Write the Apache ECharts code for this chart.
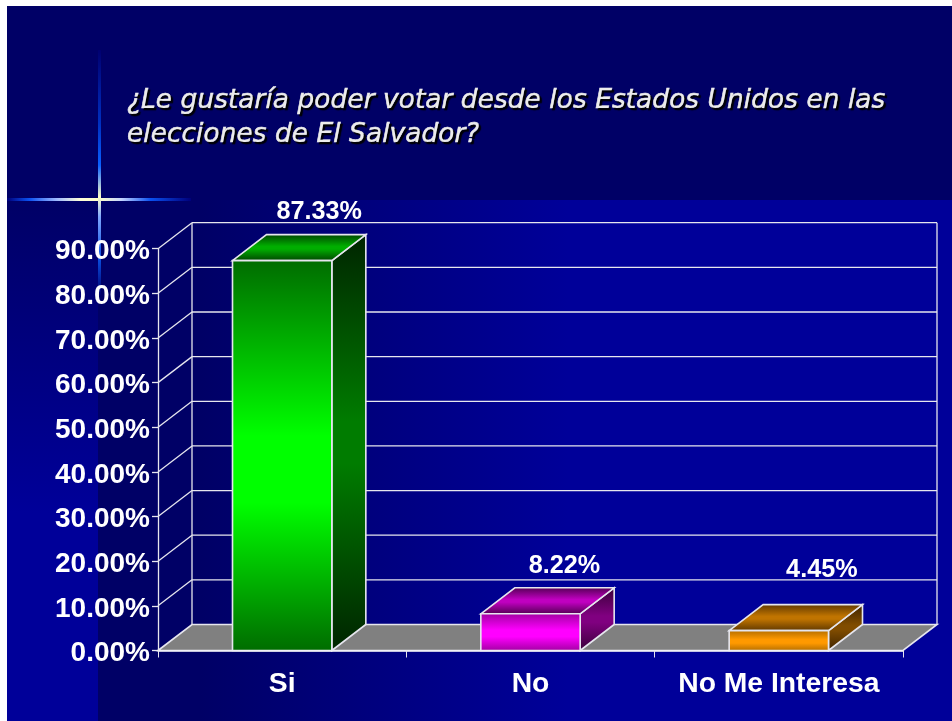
<!DOCTYPE html>
<html>
<head>
<meta charset="utf-8">
<style>
  html, body { margin: 0; padding: 0; background: #fff; }
  #chart { width: 952px; height: 721px; }
</style>
<script src="https://cdn.jsdelivr.net/npm/echarts@6/dist/echarts.min.js"></script>
</head>
<body>
<div id="chart"></div>
<script>
const categories = ['Si', 'No', 'No Me Interesa'];
const percents = [87.33, 8.22, 4.45];
const yTicks = [0, 10, 20, 30, 40, 50, 60, 70, 80, 90];
const titleLines = ['¿Le gustaría poder votar desde los Estados Unidos en las', 'elecciones de El Salvador?'];

// look of the fake 3d box
const depthX = 34;
const depthY = 26;
const edge = '#e6e6ee';
// front, top, side: [edge colour, middle colour]
const faces = [
  { front: ['#006c00', '#00ff00'], top: ['#004000', '#00ae00'], side: ['#002400', '#007c00'] },
  { front: ['#a000a0', '#ff00ff'], top: ['#500050', '#c000c0'], side: ['#380038', '#800080'] },
  { front: ['#b06c00', '#ff9900'], top: ['#5c3600', '#c07400'], side: ['#3c2200', '#804c00'] }
];
// data labels sit a bit off the box in the original
const labelShift = [[37, -49], [34, -48], [43, -61]];

function shade(pair, from, to) {
  return new echarts.graphic.LinearGradient(0, 0, 0, 1, [
    { offset: 0, color: pair[0] },
    { offset: from, color: pair[1] },
    { offset: to, color: pair[1] },
    { offset: 1, color: pair[0] }
  ]);
}

function poly(points, fill, z2) {
  return {
    type: 'polygon',
    shape: { points: points },
    style: { fill: fill, stroke: edge, lineWidth: 1.6 },
    z2: z2 || 0
  };
}

function line(x1, y1, x2, y2) {
  return {
    type: 'line',
    shape: { x1: x1, y1: y1, x2: x2, y2: y2 },
    style: { stroke: edge, lineWidth: 1.3 }
  };
}

// side wall diagonals, back wall lines and the grey floor
function renderWall(params, api) {
  const sys = params.coordSys;
  const tick = api.value(1);
  const y = api.coord([0, tick])[1];
  const left = sys.x;
  const right = sys.x + sys.width;
  const kids = [];
  if (tick === 0) {
    const topY = api.coord([0, yTicks[yTicks.length - 1]])[1];
    kids.push(poly([[left, y], [left + depthX, y - depthY], [right + depthX, y - depthY], [right, y]], '#808080'));
    kids.push(line(left + depthX, y - depthY, left + depthX, topY - depthY));
    kids.push(line(right + depthX, y - depthY, right + depthX, topY - depthY));
  } else {
    kids.push(line(left, y, left + depthX, y - depthY));
    kids.push(line(left + depthX, y - depthY, right + depthX, y - depthY));
  }
  return { type: 'group', children: kids };
}

function renderBox(params, api) {
  const i = params.dataIndex;
  const top = api.coord([api.value(0), api.value(1)]);
  const base = api.coord([api.value(0), 0]);
  const w = api.size([1, 0])[0] * 0.4;
  const x0 = top[0] - w / 2;
  const x1 = top[0] + w / 2;
  const c = faces[i];
  return {
    type: 'group',
    children: [
      poly([[x1, base[1]], [x1 + depthX, base[1] - depthY], [x1 + depthX, top[1] - depthY], [x1, top[1]]], shade(c.side, 0.45, 0.55)),
      poly([[x0, top[1]], [x0 + depthX, top[1] - depthY], [x1 + depthX, top[1] - depthY], [x1, top[1]]], shade(c.top, 0.45, 0.55)),
      poly([[x0, base[1]], [x0, top[1]], [x1, top[1]], [x1, base[1]]], shade(c.front, 0.45, 0.62)),
      {
        type: 'text',
        x: top[0] + labelShift[i][0],
        y: top[1] + labelShift[i][1],
        style: {
          text: percents[i].toFixed(2) + '%',
          fill: '#fff',
          font: '700 25.2px "Liberation Sans", Arial, sans-serif',
          align: 'center',
          verticalAlign: 'middle'
        }
      }
    ]
  };
}

const myChart = echarts.init(document.getElementById('chart'), null, { renderer: 'canvas' });

function rect(x, y, w, h, fill) {
  return { type: 'rect', z: -10, silent: true, shape: { x: x, y: y, width: w, height: h }, style: { fill: fill } };
}

const sparkH = new echarts.graphic.LinearGradient(0, 0, 1, 0, [
  { offset: 0, color: '#00007a' },
  { offset: 0.12, color: '#0a50f0' },
  { offset: 0.27, color: '#9db8ff' },
  { offset: 0.4, color: '#ffffd8' },
  { offset: 0.5, color: '#ffffc8' },
  { offset: 0.62, color: '#c4d4ff' },
  { offset: 0.78, color: '#0a50f0' },
  { offset: 1, color: '#00007a' }
]);
const sparkV = new echarts.graphic.LinearGradient(0, 0, 0, 1, [
  { offset: 0, color: '#000070' },
  { offset: 0.3, color: '#0030c0' },
  { offset: 0.47, color: '#0a60ff' },
  { offset: 0.6, color: '#ffffc8' },
  { offset: 0.68, color: '#80a8ff' },
  { offset: 0.85, color: '#0a50e0' },
  { offset: 1, color: '#000070' }
]);

myChart.setOption({
  animation: false,
  backgroundColor: '#fff',
  title: {
    text: titleLines.join('\n'),
    left: 122,
    top: 79,
    textStyle: {
      color: '#ececec',
      fontFamily: '"DejaVu Sans", Verdana, sans-serif',
      fontStyle: 'italic',
      fontWeight: 'normal',
      fontSize: 26.5,
      lineHeight: 34,
      textBorderColor: '#ececec',
      textBorderWidth: 0.6,
      textShadowColor: '#000',
      textShadowBlur: 1,
      textShadowOffsetX: 2,
      textShadowOffsetY: 2
    }
  },
  graphic: {
    elements: [
      rect(7, 6, 945, 715, '#000066'),
      rect(7, 200, 91, 521, new echarts.graphic.LinearGradient(0, 0, 0, 1, [
        { offset: 0, color: '#000066' },
        { offset: 0.6, color: '#000099' },
        { offset: 1, color: '#000099' }
      ])),
      rect(98, 200, 854, 521, new echarts.graphic.LinearGradient(0, 0, 1, 0, [
        { offset: 0, color: '#000066' },
        { offset: 0.12, color: '#000066' },
        { offset: 0.55, color: '#000099' },
        { offset: 1, color: '#000099' }
      ])),
      rect(7, 198, 184, 3, sparkH),
      rect(98, 50, 3, 245, sparkV)
    ]
  },
  grid: { left: 158, right: 49, top: 248.7, bottom: 70.5 },
  xAxis: {
    type: 'category',
    data: categories,
    z: 10,
    axisLine: { lineStyle: { color: '#f4f4f8', width: 1.5 } },
    axisTick: { show: true, length: 7, interval: 0, alignWithLabel: false, lineStyle: { color: '#e6e6ee', width: 1 } },
    axisLabel: {
      interval: 0,
      color: '#fff',
      fontFamily: '"Liberation Sans", Arial, sans-serif',
      fontWeight: 'bold',
      fontSize: 28.3,
      margin: 20
    }
  },
  yAxis: {
    type: 'value',
    min: 0,
    max: 90,
    interval: 10,
    splitLine: { show: false },
    axisLine: { show: true, lineStyle: { color: '#e6e6ee', width: 1.3 } },
    axisTick: { show: true, length: 6, lineStyle: { color: '#e6e6ee', width: 1.3 } },
    axisLabel: {
      color: '#fff',
      fontFamily: '"Liberation Sans", Arial, sans-serif',
      fontWeight: 'bold',
      fontSize: 28,
      margin: 8,
      verticalAlign: 'top',
      lineHeight: 6,
      formatter: function (v) { return v.toFixed(2) + '%'; }
    }
  },
  series: [
    {
      type: 'custom',
      z: 1,
      silent: true,
      renderItem: renderWall,
      data: yTicks.map(function (t) { return [0, t]; })
    },
    {
      type: 'custom',
      z: 2,
      silent: true,
      renderItem: renderBox,
      data: percents.map(function (v, i) { return [i, v]; })
    }
  ]
});
</script>
</body>
</html>
